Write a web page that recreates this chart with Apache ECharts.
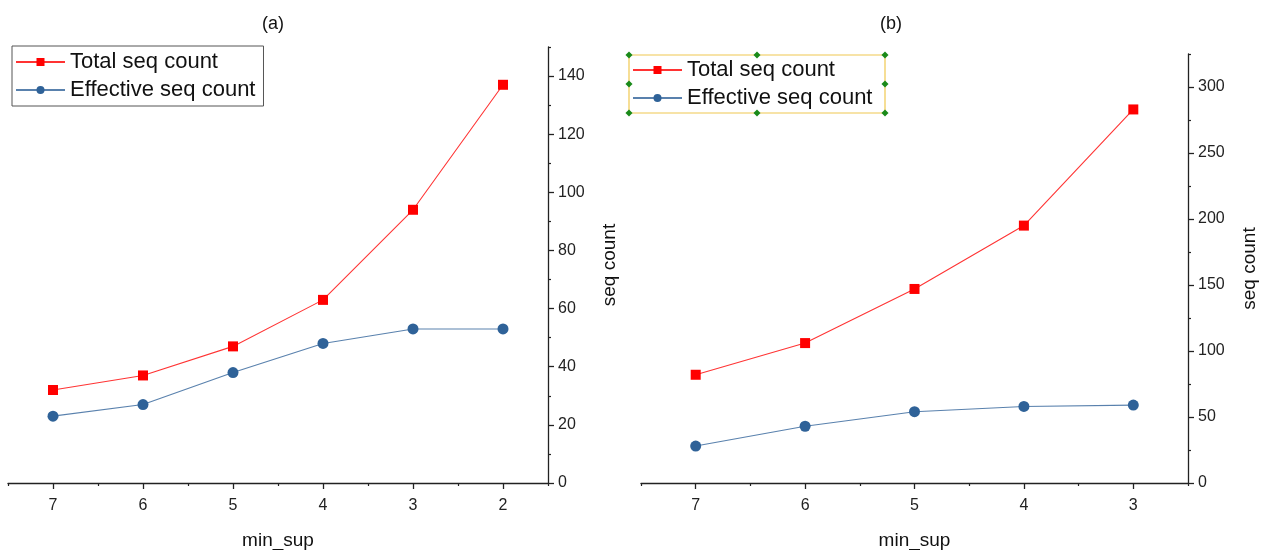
<!DOCTYPE html>
<html>
<head>
<meta charset="utf-8">
<script src="https://cdn.jsdelivr.net/npm/echarts@6/dist/echarts.min.js"></script>
<style>
    html, body { margin: 0; padding: 0; background: #fff; }
    #chart { width: 1263px; height: 550px; }
</style>
</head>
<body>
<div id="chart"></div>
<script>
    // panel (a)
    var minSupA = [7, 6, 5, 4, 3, 2];
    var totalA = [32, 37, 47, 63, 94, 137];
    var effectiveA = [23, 27, 38, 48, 53, 53];
    // panel (b)
    var minSupB = [7, 6, 5, 4, 3];
    var totalB = [82, 106, 147, 195, 283];
    var effectiveB = [28, 43, 54, 58, 59];

    var yTicksA = [0, 20, 40, 60, 80, 100, 120, 140];
    var yMinorA = [10, 30, 50, 70, 90, 110, 130, 150];
    var yTicksB = [0, 50, 100, 150, 200, 250, 300];
    var yMinorB = [25, 75, 125, 175, 225, 275, 325];
    var xMinorA = [1.5, 2.5, 3.5, 4.5, 5.5, 6.5, 7.5];
    var xMinorB = [2.5, 3.5, 4.5, 5.5, 6.5, 7.5];

    var font = 'Liberation Sans, Arial, sans-serif';
    var axisColor = '#222';
    var red = '#ff0000';
    var blue = '#2f6298';

    function pairs(xs, ys) {
        return xs.map(function (x, i) { return [x, ys[i]]; });
    }

    function xMain(grid, min, max, ticks) {
        return {
            type: 'value', gridIndex: grid, min: min, max: max, inverse: true,
            name: 'min_sup', nameLocation: 'middle', nameGap: 48,
            nameTextStyle: { fontSize: 19, color: '#111', fontFamily: font },
            axisLine: { lineStyle: { color: axisColor, width: 1.3 } },
            axisTick: { customValues: ticks, length: 6, lineStyle: { color: axisColor, width: 1.3 } },
            axisLabel: { customValues: ticks, margin: 15, fontSize: 16, color: '#222', fontFamily: font },
            splitLine: { show: false }
        };
    }
    function xMinor(grid, min, max, ticks) {
        return {
            type: 'value', gridIndex: grid, min: min, max: max, inverse: true, position: 'bottom',
            axisLine: { show: false },
            axisTick: { customValues: ticks, length: 3, lineStyle: { color: axisColor, width: 1.2 } },
            axisLabel: { show: false },
            splitLine: { show: false }
        };
    }
    function yMain(grid, max, ticks) {
        return {
            type: 'value', gridIndex: grid, min: 0, max: max, position: 'right',
            name: 'seq count', nameLocation: 'middle', nameGap: 52, nameRotate: 90,
            nameTextStyle: { fontSize: 19, color: '#111', fontFamily: font },
            axisLine: { show: true, lineStyle: { color: axisColor, width: 1.3 } },
            axisTick: { show: true, customValues: ticks, length: 6, lineStyle: { color: axisColor, width: 1.3 } },
            axisLabel: { customValues: ticks, margin: 10, fontSize: 16, color: '#222', fontFamily: font },
            splitLine: { show: false }
        };
    }
    function yMinor(grid, max, ticks) {
        return {
            type: 'value', gridIndex: grid, min: 0, max: max, position: 'right',
            axisLine: { show: false },
            axisTick: { show: true, customValues: ticks, length: 3, lineStyle: { color: axisColor, width: 1.2 } },
            axisLabel: { show: false },
            splitLine: { show: false }
        };
    }
    function totalSeries(xi, yi, data) {
        return {
            name: 'Total seq count', type: 'line', xAxisIndex: xi, yAxisIndex: yi,
            data: data, symbol: 'rect', symbolSize: 10,
            itemStyle: { color: red },
            lineStyle: { color: red, width: 1.1, opacity: 0.8 }
        };
    }
    function effectiveSeries(xi, yi, data) {
        return {
            name: 'Effective seq count', type: 'line', xAxisIndex: xi, yAxisIndex: yi,
            data: data, symbol: 'circle', symbolSize: 11,
            itemStyle: { color: blue },
            lineStyle: { color: blue, width: 1.1, opacity: 0.8 }
        };
    }
    function legend(left, top, border) {
        return {
            orient: 'vertical', left: left, top: top,
            data: ['Total seq count', 'Effective seq count'],
            itemWidth: 49, itemHeight: 10, itemGap: 6,
            padding: [5, 8, 5, 3],
            borderColor: border ? '#555' : 'transparent', borderWidth: border ? 1 : 0,
            textStyle: { fontSize: 22, color: '#111', fontFamily: font },
            selectedMode: false
        };
    }

    // handles round the selected legend in panel (b)
    var hx = [629, 757, 885], hy = [55, 84, 113];
    var handles = [];
    hx.forEach(function (x) {
        hy.forEach(function (y) {
            if (x === 757 && y === 84) return;
            handles.push({
                type: 'rect', x: x, y: y, rotation: Math.PI / 4,
                shape: { x: -2.5, y: -2.5, width: 5, height: 5 },
                style: { fill: '#1a8a1a' }, z: 101
            });
        });
    });

    var chart = echarts.init(document.getElementById('chart'));
    chart.setOption({
        animation: false,
        backgroundColor: '#fff',
        title: [
            { text: '(a)', left: 268, top: 10, textAlign: 'center',
              textStyle: { fontSize: 18, fontWeight: 'normal', color: '#111', fontFamily: font } },
            { text: '(b)', left: 886, top: 10, textAlign: 'center',
              textStyle: { fontSize: 18, fontWeight: 'normal', color: '#111', fontFamily: font } }
        ],
        grid: [
            { left: 8, width: 540, top: 47, height: 436, outerBoundsMode: 'none' },
            { left: 641, width: 547, top: 54, height: 429, outerBoundsMode: 'none' }
        ],
        legend: [legend(12, 46, true), legend(629, 54, false)],
        xAxis: [
            xMain(0, 1.5, 7.5, minSupA), xMinor(0, 1.5, 7.5, xMinorA),
            xMain(1, 2.5, 7.5, minSupB), xMinor(1, 2.5, 7.5, xMinorB)
        ],
        yAxis: [
            yMain(0, 150, yTicksA), yMinor(0, 150, yMinorA),
            yMain(1, 325, yTicksB), yMinor(1, 325, yMinorB)
        ],
        series: [
            totalSeries(0, 0, pairs(minSupA, totalA)),
            effectiveSeries(0, 0, pairs(minSupA, effectiveA)),
            totalSeries(2, 2, pairs(minSupB, totalB)),
            effectiveSeries(2, 2, pairs(minSupB, effectiveB))
        ],
        graphic: [
            { type: 'rect', shape: { x: 629, y: 55, width: 256, height: 58 },
              style: { fill: 'none', stroke: '#f0c850', lineWidth: 1.2 }, z: 100 }
        ].concat(handles)
    });
</script>
</body>
</html>
